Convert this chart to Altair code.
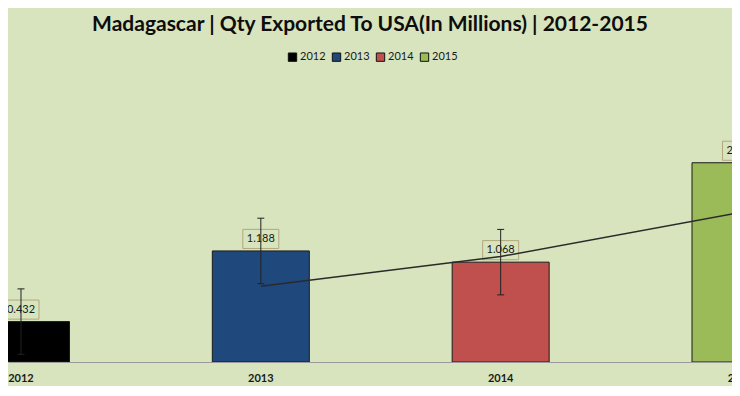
import altair as alt
import pandas as pd

years = [2012, 2013, 2014, 2015]
year_labels = ["2012", "2013", "2014", "2015"]
values = [0.432, 1.188, 1.068, 2.131]
errors = [0.35, 0.35, 0.35, 0.35]
colors = ["#000000", "#1F497D", "#C0504D", "#9BBB59"]

df = pd.DataFrame({"year": years, "label": year_labels, "value": values, "err": errors})

BG = "#D7E4BD"
FONT = "Lato"
YDOM = [0, 3.123]

x = alt.X("year:Q", scale=alt.Scale(domain=[2011.9667, 2014.9437], nice=False, zero=False),
          axis=alt.Axis(labels=False, ticks=False, grid=False, domainColor="#9a9a9a",
                        domainWidth=1, title=None))
y = alt.Y("value:Q", scale=alt.Scale(domain=YDOM, nice=False), axis=None)

base = alt.Chart(df)

bars = base.mark_bar(size=97, stroke="#1a1a1a", strokeWidth=1, orient="vertical", clip=True).encode(
    x=x, y=y,
    color=alt.Color("label:N", scale=alt.Scale(domain=year_labels, range=colors),
                    legend=alt.Legend(orient="none", legendX=279, legendY=-18.5,
                                      direction="horizontal", title=None, symbolType="square",
                                      symbolSize=70, symbolStrokeColor="#111",
                                      symbolStrokeWidth=1, labelFont=FONT, labelFontSize=11,
                                      labelColor="#1a1a1a", labelOffset=2, columnPadding=4,
                                      padding=0)),
)

boxes = base.mark_point(shape="M-1,-0.53H1V0.53H-1Z", size=1296, filled=True, fill=BG,
                        stroke="#B3A77D", strokeWidth=1, opacity=1, fillOpacity=1,
                        strokeOpacity=1, yOffset=-12, clip=True).encode(x=x, y=y)

texts = base.mark_text(font=FONT, fontSize=11, color="#1a1a1a", dy=-12, baseline="middle",
                       clip=True).encode(x=x, y=y, text=alt.Text("value:Q", format=".3f"))

err_base = base.transform_calculate(lo="datum.value - datum.err", hi="datum.value + datum.err")
err_rule = err_base.mark_rule(color="#222222", strokeWidth=1, clip=True).encode(
    x=x, y=alt.Y("lo:Q", scale=alt.Scale(domain=YDOM, nice=False), axis=None), y2="hi:Q")
cap_lo = err_base.mark_point(shape="M-1,0H1", size=49, stroke="#222222", strokeWidth=1,
                             filled=False, opacity=1, clip=True).encode(
    x=x, y=alt.Y("lo:Q", scale=alt.Scale(domain=YDOM, nice=False), axis=None))
cap_hi = err_base.mark_point(shape="M-1,0H1", size=49, stroke="#222222", strokeWidth=1,
                             filled=False, opacity=1, clip=True).encode(
    x=x, y=alt.Y("hi:Q", scale=alt.Scale(domain=YDOM, nice=False), axis=None))

trend = base.transform_window(
    prev="lag(value)", sort=[alt.SortField("year")]
).transform_filter("isValid(datum.prev)").transform_calculate(
    ma="(datum.value + datum.prev) / 2"
).mark_line(color="#2a2a2a", strokeWidth=1.5, clip=True).encode(
    x=x, y=alt.Y("ma:Q", scale=alt.Scale(domain=YDOM, nice=False), axis=None))

cats = base.mark_text(font=FONT, fontSize=11, fontWeight="bold", color="#1a1a1a",
                      dy=17, baseline="middle").encode(
    x=x, y=alt.datum(0), text="label:N")

chart = alt.layer(bars, boxes, texts, err_rule, cap_lo, cap_hi, trend, cats).properties(
    width=724, height=292,
    autosize=alt.AutoSizeParams(type="none"),
    padding={"top": 62, "left": 0, "right": 0, "bottom": 24},
    background=BG,
    title=alt.TitleParams("Madagascar | Qty Exported To USA(In Millions) | 2012-2015",
                          font=FONT, fontSize=21, fontWeight="bold", color="#0d0d0d",
                          anchor="middle", offset=17),
).configure_view(strokeWidth=0)

chart.save("out.html", embed_options={"renderer": "svg", "actions": False})
